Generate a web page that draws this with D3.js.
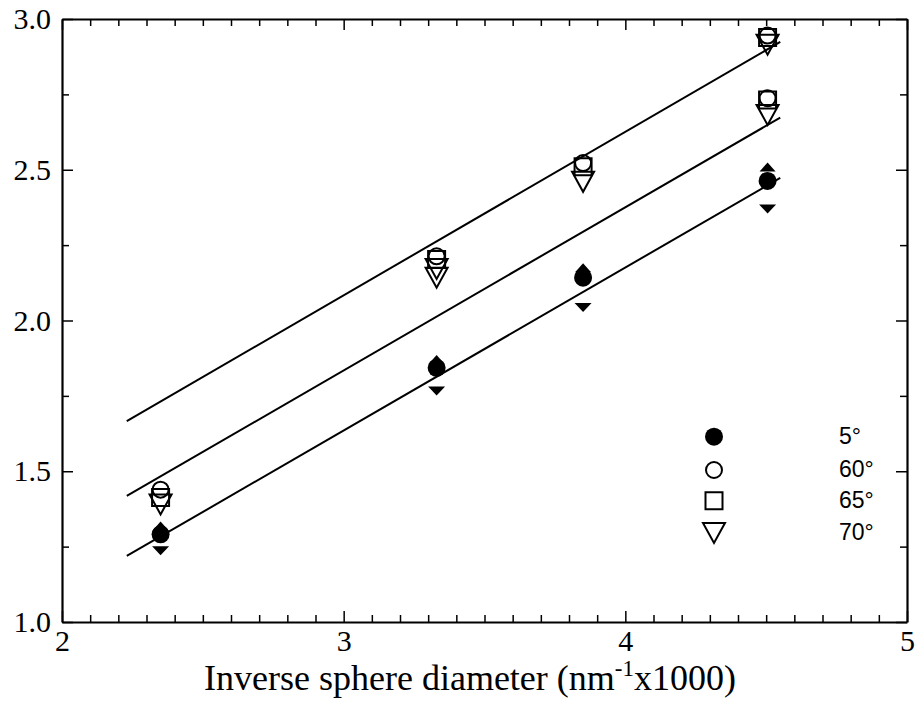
<!DOCTYPE html>
<html>
<head>
<meta charset="utf-8">
<script src="https://cdn.jsdelivr.net/npm/d3@7"></script>
<style>
body { margin: 0; background: #fff; }
</style>
</head>
<body>
<svg id="chart" width="917" height="706"></svg>
<script>
// sphere sizes (inverse diameter, nm^-1 x1000)
const xValues = [2.35, 3.33, 3.85, 4.505];
// filled series
const deg5 = [1.291, 1.843, 2.142, 2.463];
const upTri = [1.318, 1.871, 2.175, 2.509];
const downTri = [1.236, 1.766, 2.043, 2.370];
// open series
const deg60 = [1.439, 2.213, 2.522, 2.945];
const deg65 = [1.413, 2.202, 2.510, 2.939];
const deg70 = [1.390, 2.171, 2.460, 2.915];
const deg60b = [null, null, null, 2.737];
const deg65b = [null, null, null, 2.731];
const deg70b = [null, 2.142, null, 2.682];
// fitted lines
const fitX = [2.23, 4.55];
const fitTop = [1.666, 2.924];
const fitMid = [1.418, 2.673];
const fitBot = [1.219, 2.473];

const legendLabels = ['5°', '60°', '65°', '70°'];
const xTicks = [2, 3, 4, 5];
const yTicks = [1.0, 1.5, 2.0, 2.5, 3.0];

const serif = '"Liberation Serif", "Times New Roman", Times, serif';
const margin = {left: 62, right: 10, top: 19, bottom: 84};
const width = 917, height = 706;
const svg = d3.select('#chart');

const x = d3.scaleLinear().domain([2, 5]).range([margin.left, width - margin.right]);
const y = d3.scaleLinear().domain([1, 3]).range([height - margin.bottom, margin.top]);

const xMinor = d3.range(2, 5.001, 0.1).map(d => +d.toFixed(2)).filter(d => !xTicks.includes(d));
const yMinor = d3.range(1, 3.001, 0.25).filter(d => !yTicks.includes(d));

// minor + major ticks on all four sides
const sides = [
    {axis: d3.axisBottom, scale: x, pos: `translate(0,${y(1)})`, major: xTicks, minor: xMinor, labels: true},
    {axis: d3.axisTop, scale: x, pos: `translate(0,${y(3)})`, major: xTicks, minor: xMinor, labels: false},
    {axis: d3.axisLeft, scale: y, pos: `translate(${x(2)},0)`, major: yTicks, minor: yMinor, labels: true},
    {axis: d3.axisRight, scale: y, pos: `translate(${x(5)},0)`, major: yTicks, minor: yMinor, labels: false}
];

sides.forEach(s => {
    svg.append('g').attr('transform', s.pos)
        .call(s.axis(s.scale).tickValues(s.minor).tickSizeInner(-7).tickSizeOuter(0).tickFormat(''))
        .call(g => g.select('.domain').remove())
        .selectAll('line').attr('stroke', '#000').attr('stroke-width', 1.5);
    const ax = s.axis(s.scale).tickValues(s.major).tickSizeInner(-11).tickSizeOuter(0)
        .tickFormat(s.labels ? (s.scale === y ? d3.format('.1f') : d3.format('d')) : '')
        .tickPadding(s.scale === y ? 11 : 8);
    const g = svg.append('g').attr('transform', s.pos).call(ax);
    g.attr('font-family', serif).attr('font-size', 30);
    g.select('.domain').attr('stroke', '#000').attr('stroke-width', 2.2);
    g.selectAll('line').attr('stroke', '#000').attr('stroke-width', 1.5);
    g.selectAll('text')
        .style('font-family', serif)
        .style('font-size', '30px')
        .attr('fill', '#000');
});

// fitted lines
const line = d3.line().x(d => x(d[0])).y(d => y(d[1]));
[fitTop, fitMid, fitBot].forEach(f => {
    svg.append('path')
        .datum(fitX.map((v, i) => [v, f[i]]))
        .attr('d', line)
        .attr('fill', 'none')
        .attr('stroke', '#000')
        .attr('stroke-width', 2);
});

const triDown = (w, h) => `M${-w/2},${-h/2}L${w/2},${-h/2}L0,${h/2}Z`;
const triUp = (w, h) => `M${-w/2},${h/2}L${w/2},${h/2}L0,${-h/2}Z`;
const shapes = {
    dot: {d: d3.symbol(d3.symbolCircle, Math.PI * 81)(), fill: '#000'},
    circle: {d: d3.symbol(d3.symbolCircle, Math.PI * 64)(), fill: 'none'},
    square: {d: d3.symbol(d3.symbolSquare, 17 * 17)(), fill: 'none'},
    tri: {d: triDown(22, 20), fill: 'none'},
    smallUp: {d: triUp(16, 9), fill: '#000'},
    smallDown: {d: triDown(17, 9), fill: '#000'}
};

const series = [
    {vals: upTri, shape: 'smallUp'},
    {vals: downTri, shape: 'smallDown'},
    {vals: deg5, shape: 'dot'},
    {vals: deg60, shape: 'circle'},
    {vals: deg65, shape: 'square'},
    {vals: deg70, shape: 'tri'},
    {vals: deg60b, shape: 'circle'},
    {vals: deg65b, shape: 'square'},
    {vals: deg70b, shape: 'tri'}
];

series.forEach(s => {
    const pts = xValues.map((v, i) => [v, s.vals[i]]).filter(p => p[1] != null);
    svg.append('g').selectAll('path')
        .data(pts)
        .enter()
        .append('path')
        .attr('d', shapes[s.shape].d)
        .attr('transform', d => `translate(${x(d[0])},${y(d[1])})`)
        .attr('fill', shapes[s.shape].fill)
        .attr('stroke', '#000')
        .attr('stroke-width', shapes[s.shape].fill === 'none' ? 2 : 0);
});

// legend
const legendShapes = ['dot', 'circle', 'square', 'tri'];
const legendY = [436.7, 470, 500.7, 533];
const legend = svg.append('g');
legendLabels.forEach((lab, i) => {
    const sh = shapes[legendShapes[i]];
    legend.append('path')
        .attr('d', sh.d)
        .attr('transform', `translate(714,${legendY[i]})`)
        .attr('fill', sh.fill)
        .attr('stroke', '#000')
        .attr('stroke-width', sh.fill === 'none' ? 2 : 0);
    legend.append('text')
        .attr('x', 839)
        .attr('y', legendY[i] + 7)
        .attr('font-family', '"Liberation Sans", Arial, sans-serif')
        .attr('font-size', 23)
        .text(lab);
});

// axis title
const title = svg.append('text')
    .attr('x', 470)
    .attr('y', 690)
    .attr('text-anchor', 'middle')
    .attr('font-family', serif)
    .attr('font-size', 36);
title.append('tspan').text('Inverse sphere diameter (nm');
title.append('tspan').attr('dy', -14).attr('font-size', 23).text('-1');
title.append('tspan').attr('dy', 14).text('x1000)');
</script>
</body>
</html>
